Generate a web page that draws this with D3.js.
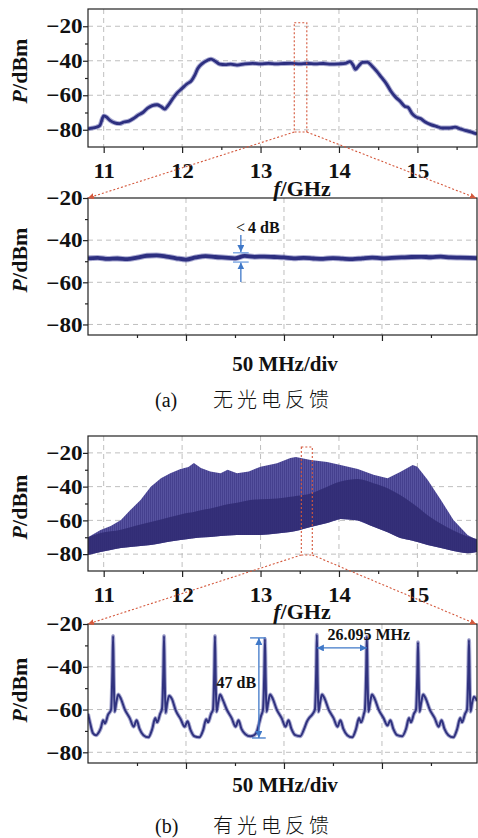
<!DOCTYPE html>
<html>
<head>
<meta charset="utf-8">
<script src="https://cdn.jsdelivr.net/npm/d3@7"></script>
<style>
  body { margin: 0; background: #fff; }
  svg text { font-family: "Liberation Serif", "Times New Roman", serif; fill: #111; }
  .tick text { font-weight: bold; font-size: 21px; }
  .cjk { font-family: "Noto Sans CJK SC", sans-serif; font-weight: 300; }
</style>
</head>
<body>
<svg id="fig" width="478" height="838"></svg>
<script>
// ---- data ----

// (a) wide span, no feedback : frequency (GHz) / power (dBm)
var aFreq = [10.80, 10.85, 10.90, 10.95, 11.00, 11.03, 11.08, 11.14, 11.20, 11.26, 11.32, 11.38, 11.44, 11.50,
  11.56, 11.62, 11.68, 11.73, 11.78, 11.82, 11.88, 11.94, 12.00, 12.06, 12.12, 12.16, 12.20, 12.26, 12.32,
  12.37, 12.42, 12.48, 12.55, 12.62, 12.70, 12.80, 12.90, 13.00, 13.10, 13.20, 13.30, 13.40, 13.50, 13.60,
  13.70, 13.80, 13.90, 14.00, 14.08, 14.14, 14.18, 14.21, 14.25, 14.30, 14.36, 14.42, 14.48, 14.54, 14.60,
  14.66, 14.72, 14.78, 14.84, 14.88, 14.93, 14.98, 15.04, 15.10, 15.17, 15.24, 15.32, 15.40, 15.48, 15.55,
  15.62, 15.70, 15.76];
var aPower = [-79.5, -79, -78.6, -77.5, -72, -72.5, -74.5, -76, -76.5, -75.5, -75, -73.5, -71.5, -70,
  -67.5, -66, -65.5, -66.5, -68, -66, -62, -58.5, -56, -53.5, -51.5, -48.5, -44.5, -41.5, -39.8,
  -39, -40.2, -42, -42.3, -42, -42.5, -41.8, -41.5, -41.8, -41.5, -41.8, -41.6, -41.5, -41.8, -41.6,
  -41.8, -41.6, -42, -41.8, -41.5, -40.5, -42.5, -45, -43, -41, -40.8, -43, -46, -49.5, -53,
  -57.5, -61, -63.5, -66.5, -67, -70.5, -72.5, -73.5, -75.5, -77, -78, -79, -79, -78.5, -79.5,
  -80.5, -81.5, -82.5];

// (a) zoomed, 50 MHz/div : offset (MHz) / power (dBm)
var bOffset = [0, 5, 10, 15, 20, 25, 30, 35, 40, 45, 50, 55, 60, 65, 70, 75, 80, 85, 90, 95, 100,
  105, 110, 115, 120, 125, 130, 135, 140, 145, 150, 155, 160, 165, 170, 175, 180, 185, 190, 198.5];
var bPower = [-48.6, -48.4, -48.9, -48.7, -49, -48.3, -47.4, -47.2, -47.8, -48.6, -49.2, -48.2, -47.6, -48,
  -48.3, -48.6, -47.5, -47.9, -47.8, -48, -48.2, -48.6, -48.4, -48.7, -48.9, -48.5, -48.8, -49, -48.6,
  -48.3, -48.6, -48.4, -48.2, -48, -47.9, -48.1, -47.8, -48.2, -48.3, -48.5];

// (b) wide span with feedback : envelopes of the comb (GHz / dBm)
var cFreq = [10.80, 10.96, 11.09, 11.22, 11.34, 11.47, 11.60, 11.73, 11.85, 11.98, 12.08, 12.15, 12.24,
  12.36, 12.49, 12.58, 12.70, 12.85, 13.00, 13.21, 13.38, 13.45, 13.64, 13.85, 14.02, 14.24, 14.44,
  14.62, 14.78, 14.94, 15.00, 15.13, 15.30, 15.46, 15.64, 15.76];
var cUpper = [-70, -65.7, -63.3, -59.8, -53.9, -47.9, -40, -35, -32, -29.6, -28.4, -26, -29,
  -31, -32, -30, -32, -31, -28.2, -26.2, -23, -22.4, -24.2, -25.4, -27.2, -29.6, -33,
  -35, -31.3, -27.2, -28.2, -35.9, -47.9, -59.8, -68.6, -71.6];
var cFloorTop = [-70, -67.5, -66.5, -65.5, -64, -62.5, -61, -59.5, -58, -56.5, -55.5, -55, -54,
  -53, -51.5, -50.5, -49.5, -48, -47.5, -47, -46, -45.5, -44, -40, -37, -35.5, -38,
  -41, -45, -50, -52, -57, -62, -66, -69.5, -71];
var cLower = [-80.5, -78.7, -77.5, -76.4, -75.8, -75.2, -74.6, -73.5, -72.5, -71.6, -71, -70.6, -70.2,
  -69.8, -69.3, -69, -68.6, -68.6, -68.6, -67.8, -66.9, -66.3, -63.9, -61.6, -59.2, -60, -63.8,
  -67, -70.4, -72, -72.8, -74.6, -76.4, -78.2, -79.5, -78.7];

// (b) zoomed, 50 MHz/div : offset (MHz) / power (dBm)
var dOffset = [0, 1.0, 2.5, 4.1, 5.6, 6.6, 7.7, 8.7, 10.2,
  11.8, 12.45, 12.8, 13.15, 13.6, 14.4, 15.4, 16.8, 18.8, 21.3, 23.3, 24.8, 26.3, 28.3, 30.8, 32.8, 34.3, 35.3, 36.8,
  37.8, 38.45, 38.8, 39.15, 39.6, 40.4, 41.4, 42.8, 44.8, 47.3, 49.3, 50.8, 52.3, 54.3, 56.8, 58.8, 60.3, 61.3, 62.8,
  63.8, 64.45, 64.8, 65.15, 65.6, 66.4, 67.4, 68.8, 70.8, 73.3, 75.3, 76.8, 78.3, 80.3, 82.8, 84.8, 86.3, 87.3, 88.3,
  89.3, 89.95, 90.3, 90.65, 91.1, 91.9, 92.9, 94.3, 96.3, 98.8, 100.8, 102.3, 103.8, 105.8, 108.3, 110.3, 111.8, 112.8, 114.3,
  115.8, 116.45, 116.8, 117.15, 117.6, 118.4, 119.4, 120.8, 122.8, 125.3, 127.3, 128.8, 130.3, 132.3, 134.8, 136.8, 138.3, 139.3, 140.8,
  141.3, 141.95, 142.3, 142.65, 143.1, 143.9, 144.9, 146.3, 148.3, 150.8, 152.8, 154.3, 155.8, 157.8, 160.3, 162.3, 163.8, 164.8, 166.3,
  167.4, 168.05, 168.4, 168.75, 169.2, 170.0, 171.0, 172.4, 174.4, 176.9, 178.9, 180.4, 181.9, 183.9, 186.4, 188.4, 189.9, 190.9, 192.4,
  193.4, 194.05, 194.4, 194.75, 195.2, 196.0, 197.0, 198.5];
var dPower = [-62, -66, -71, -72, -70.5, -68.5, -65, -66.5, -62.5,
  -60, -42, -25.6, -45, -61, -57, -53, -55, -60, -64, -68, -65, -69, -72, -73, -69, -64, -66, -62,
  -59.5, -42, -25.6, -45, -61.5, -57, -53.5, -55, -60.5, -64.5, -68, -65.5, -69.5, -72.5, -73, -69.5, -64.5, -66, -62,
  -60, -42, -25.6, -45, -61, -57, -53, -55.5, -60, -64, -68, -65, -69, -71.5, -72.5, -72, -70, -66.5, -63,
  -60, -43, -27, -45, -61, -57, -53, -55, -60, -64, -68, -65, -69, -72, -72.5, -69, -65.5, -64, -62.5,
  -60, -42, -25, -45, -61, -57, -53, -55, -60, -64, -68, -65, -69, -72, -73, -69, -64, -66, -62,
  -60, -42, -26, -45, -61, -57, -53, -55, -60, -64, -67.5, -65, -69, -72, -72.5, -69, -64, -66, -62,
  -60, -43, -28.5, -45, -61, -57, -53, -55, -60, -64, -68, -65, -69, -72, -73, -69, -64, -66, -62,
  -60, -43, -27.5, -45, -61, -57, -54, -56];

// ticks
var ghzMajor = [11, 12, 13, 14, 15];
var ghzMinor = [11.5, 12.5, 13.5, 14.5, 15.5];
var mhzMajor = [50, 100, 150];
var mhzMinor = [25, 75, 125, 175];
var dbMajor = [-20, -40, -60, -80];
var dbMinor = [-30, -50, -70];

// zoom windows (GHz lo, GHz hi, dBm top, dBm bottom)
var boxA = [13.43, 13.59, -18, -81.3];
var boxB = [13.52, 13.66, -16.5, -80.5];

// annotations
var flatMark = {mhz: 78, top: [-37.6, -45.6], bottom: [-59.8, -50.6], bars: [-46, -50.4]};
var depthMark = {mhz: 87.2, hi: -26.5, lo: -73.3};
var spacingMark = {from: 116.8, to: 142.3, level: -31.2};

// ---- drawing ----
var svg = d3.select("#fig");
var L = 88, R = 477;
var navy = "#2d2f80", halo = "#6264ac", red = "#d4583c", blue = "#3f78c8";

var xA = d3.scaleLinear([10.8, 15.76], [L, R]),
    yA = d3.scaleLinear([-90, -10], [147, 9]),
    xB = d3.scaleLinear([0, 198.5], [L, R]),
    yB = d3.scaleLinear([-85, -20], [335, 198]),
    xC = d3.scaleLinear([10.8, 15.76], [L, R]),
    yC = d3.scaleLinear([-90, -10], [571, 436]),
    xD = d3.scaleLinear([0, 198.5], [L, R]),
    yD = d3.scaleLinear([-85, -20], [763, 624]);

var defs = svg.append("defs");
var pat = defs.append("pattern").attr("id", "stripes")
  .attr("width", 2).attr("height", 4).attr("patternUnits", "userSpaceOnUse");
pat.append("rect").attr("width", 2).attr("height", 4).attr("fill", "#56529f");
pat.append("rect").attr("width", 1).attr("height", 4).attr("fill", "#45408e");

function marker(id, color, size) {
  defs.append("marker").attr("id", id)
    .attr("viewBox", "0 0 8 8").attr("refX", 8).attr("refY", 4)
    .attr("markerWidth", size).attr("markerHeight", size)
    .attr("markerUnits", "userSpaceOnUse").attr("orient", "auto-start-reverse")
    .append("path").attr("d", "M0,0L8,4L0,8z").attr("fill", color);
}
marker("redArrow", red, 6);
marker("blueArrow", blue, 7);

function clip(id, x, y) {
  defs.append("clipPath").attr("id", id).append("rect")
    .attr("x", x.range()[0]).attr("y", y.range()[1])
    .attr("width", x.range()[1] - x.range()[0]).attr("height", y.range()[0] - y.range()[1]);
}

function grid(x, y, xs) {
  var g = svg.append("g").attr("stroke", "#b8b8b8").attr("stroke-width", 0.9).attr("stroke-dasharray", "5,4");
  g.selectAll(null).data(xs).join("line")
    .attr("x1", function(d) { return x(d); }).attr("x2", function(d) { return x(d); })
    .attr("y1", y.range()[1]).attr("y2", y.range()[0]);
  g.selectAll(null).data(dbMajor.filter(function(d) { return y(d) > y.range()[1] + 1; })).join("line")
    .attr("x1", L).attr("x2", R)
    .attr("y1", function(d) { return y(d); }).attr("y2", function(d) { return y(d); });
}

function axes(x, y, xMajor, xMinor, labels, titleY) {
  var yb = y.range()[0], yt = y.range()[1];
  var g = svg.append("g");
  g.append("rect").attr("x", L).attr("y", yt).attr("width", R - L).attr("height", yb - yt)
    .attr("fill", "none").attr("stroke", "#222").attr("stroke-width", 1.2);

  var bx = g.append("g").attr("transform", "translate(0," + yb + ")");
  bx.call(d3.axisBottom(x).tickValues(xMajor).tickSize(6).tickPadding(10).tickSizeOuter(0)
    .tickFormat(labels ? d3.format("d") : ""));
  bx.append("g").call(d3.axisBottom(x).tickValues(xMinor).tickSize(3).tickSizeOuter(0).tickFormat(""));
  bx.selectAll(".domain").remove();
  bx.selectAll("line").attr("stroke", "#222").attr("stroke-width", 1.2);
  bx.selectAll(".tick text").attr("transform", "scale(1.08,1)");

  var ly = g.append("g").attr("transform", "translate(" + L + ",0)");
  ly.call(d3.axisLeft(y).tickValues(dbMajor).tickSize(5).tickPadding(0).tickSizeOuter(0));
  ly.append("g").call(d3.axisLeft(y).tickValues(dbMinor).tickSize(3).tickSizeOuter(0).tickFormat(""));
  ly.selectAll(".domain").remove();
  ly.selectAll("line").attr("stroke", "#222").attr("stroke-width", 1.2);
  ly.selectAll(".tick text").attr("transform", "scale(1.1,1)");

  svg.append("text")
    .attr("transform", "translate(27," + titleY + ") rotate(-90)")
    .attr("text-anchor", "middle").attr("font-size", 22).attr("font-weight", "bold")
    .call(function(t) {
      t.append("tspan").attr("font-style", "italic").text("P");
      t.append("tspan").text("/dBm");
    });
}

function line(x, y) {
  return d3.line().curve(d3.curveMonotoneX)
    .x(function(d) { return x(d[0]); }).y(function(d) { return y(d[1]); });
}

// a trace drawn as a soft halo with a darker core, like a noisy analyser trace
function trace(rows, x, y, clipId, core, width) {
  var g = svg.append("g").attr("clip-path", "url(#" + clipId + ")")
    .attr("fill", "none").attr("stroke-linejoin", "round");
  g.append("path").datum(rows).attr("d", line(x, y))
    .attr("stroke", halo).attr("stroke-opacity", 0.55).attr("stroke-width", width + 2);
  g.append("path").datum(rows).attr("d", line(x, y))
    .attr("stroke", core).attr("stroke-width", width);
}

// panel (a) top
clip("clipA", xA, yA);
grid(xA, yA, ghzMajor);
trace(d3.zip(aFreq, aPower), xA, yA, "clipA", navy, 2.8);
axes(xA, yA, ghzMajor, ghzMinor, true, 71);

// panel (a) zoom
clip("clipB", xB, yB);
grid(xB, yB, mhzMajor);
trace(d3.zip(bOffset, bPower), xB, yB, "clipB", navy, 3.8);
axes(xB, yB, mhzMajor, mhzMinor, false, 260);

// panel (b) top
clip("clipC", xC, yC);
grid(xC, yC, ghzMajor);
var cRows = cFreq.map(function(f, i) { return {f: f, up: cUpper[i], mid: cFloorTop[i], lo: cLower[i]}; });
svg.append("path").datum(cRows).attr("clip-path", "url(#clipC)")
  .attr("d", d3.area().x(function(d) { return xC(d.f); })
    .y0(function(d) { return yC(d.lo); }).y1(function(d) { return yC(d.up); }))
  .attr("fill", "url(#stripes)");
svg.append("path").datum(cRows).attr("clip-path", "url(#clipC)")
  .attr("d", d3.area().curve(d3.curveMonotoneX).x(function(d) { return xC(d.f); })
    .y0(function(d) { return yC(d.lo); }).y1(function(d) { return yC(d.mid); }))
  .attr("fill", "#2f2a72").attr("opacity", 0.85);
axes(xC, yC, ghzMajor, ghzMinor, true, 507);

// panel (b) zoom
clip("clipD", xD, yD);
grid(xD, yD, mhzMajor);
trace(d3.zip(dOffset, dPower), xD, yD, "clipD", "#30327f", 2);
axes(xD, yD, mhzMajor, mhzMinor, false, 690);

// x titles
function fTitle(yPos) {
  svg.append("text").attr("x", 302).attr("y", yPos).attr("text-anchor", "middle")
    .attr("font-size", 22).attr("font-weight", "bold")
    .call(function(t) {
      t.append("tspan").attr("font-style", "italic").text("f");
      t.append("tspan").text("/GHz");
    });
}
fTitle(196);
fTitle(619);
[371, 792].forEach(function(yPos) {
  svg.append("text").attr("x", 285).attr("y", yPos).attr("text-anchor", "middle")
    .attr("font-size", 21).attr("font-weight", "bold").text("50 MHz/div");
});

// zoom boxes and connectors
function zoomBox(box, x, y, x2, y2) {
  var g = svg.append("g").attr("fill", "none").attr("stroke", red)
    .attr("stroke-width", 1.1).attr("stroke-dasharray", "2,2");
  g.append("rect").attr("x", x(box[0])).attr("y", y(box[2]))
    .attr("width", x(box[1]) - x(box[0])).attr("height", y(box[3]) - y(box[2]));
  g.append("line").attr("x1", x(box[0])).attr("y1", y(box[3]))
    .attr("x2", x2(0)).attr("y2", y2(-20)).attr("marker-end", "url(#redArrow)");
  g.append("line").attr("x1", x(box[1])).attr("y1", y(box[3]))
    .attr("x2", x2.range()[1] - 1).attr("y2", y2(-20)).attr("marker-end", "url(#redArrow)");
}
zoomBox(boxA, xA, yA, xB, yB);
zoomBox(boxB, xC, yC, xD, yD);

// (a) flatness mark
var fm = svg.append("g").attr("stroke", blue).attr("stroke-width", 1.3);
fm.append("line").attr("x1", xB(flatMark.mhz)).attr("x2", xB(flatMark.mhz))
  .attr("y1", yB(flatMark.top[0])).attr("y2", yB(flatMark.top[1])).attr("marker-end", "url(#blueArrow)");
fm.append("line").attr("x1", xB(flatMark.mhz)).attr("x2", xB(flatMark.mhz))
  .attr("y1", yB(flatMark.bottom[0])).attr("y2", yB(flatMark.bottom[1])).attr("marker-end", "url(#blueArrow)");
flatMark.bars.forEach(function(v) {
  fm.append("line").attr("x1", xB(flatMark.mhz - 4)).attr("x2", xB(flatMark.mhz + 4))
    .attr("y1", yB(v)).attr("y2", yB(v)).attr("stroke", "#6f9ee0");
});
svg.append("text").attr("x", xB(75.5)).attr("y", yB(-36.6)).attr("font-size", 16)
  .call(function(t) {
    t.append("tspan").text("<");
    t.append("tspan").attr("dx", 3).attr("font-weight", "bold").text("4 dB");
  });

// (b) depth mark
var dm = svg.append("g").attr("stroke", blue).attr("stroke-width", 1.3);
dm.append("line").attr("x1", xD(depthMark.mhz)).attr("x2", xD(depthMark.mhz))
  .attr("y1", yD(depthMark.lo)).attr("y2", yD(depthMark.hi))
  .attr("marker-start", "url(#blueArrow)").attr("marker-end", "url(#blueArrow)");
dm.append("line").attr("x1", xD(depthMark.mhz - 4.5)).attr("x2", xD(depthMark.mhz + 3.5))
  .attr("y1", yD(depthMark.hi)).attr("y2", yD(depthMark.hi));
dm.append("line").attr("x1", xD(depthMark.mhz - 3.5)).attr("x2", xD(depthMark.mhz + 3.5))
  .attr("y1", yD(depthMark.lo)).attr("y2", yD(depthMark.lo));
svg.append("text").attr("x", xD(85.8)).attr("y", yD(-50)).attr("text-anchor", "end")
  .attr("font-size", 16).attr("font-weight", "bold").text("47 dB");

// (b) spacing mark
svg.append("line").attr("stroke", blue).attr("stroke-width", 1.3)
  .attr("x1", xD(spacingMark.from)).attr("x2", xD(spacingMark.to))
  .attr("y1", yD(spacingMark.level)).attr("y2", yD(spacingMark.level))
  .attr("marker-start", "url(#blueArrow)").attr("marker-end", "url(#blueArrow)");
svg.append("text").attr("x", xD(122.2)).attr("y", yD(-27.5))
  .attr("font-size", 16).attr("font-weight", "bold").text("26.095 MHz");

// captions
function caption(yPos, letter, words) {
  var t = svg.append("text").attr("x", 155).attr("y", yPos).attr("font-size", 20);
  t.append("tspan").text("(" + letter + ")");
  t.append("tspan").attr("class", "cjk").attr("x", 213).attr("letter-spacing", 4).text(words);
}
caption(407, "a", "无光电反馈");
caption(833, "b", "有光电反馈");
</script>
</body>
</html>
